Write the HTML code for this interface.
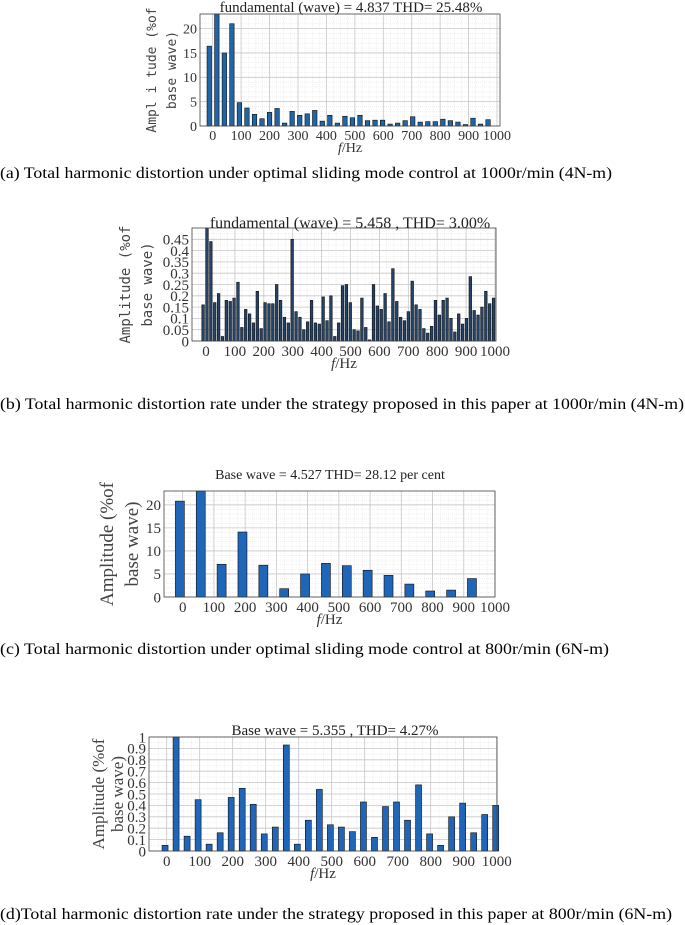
<!DOCTYPE html>
<html><head><meta charset="utf-8">
<style>
html,body{margin:0;padding:0;background:#fff;}
svg{display:block;font-family:"Liberation Serif",serif;}
</style></head>
<body>
<svg id="page" width="685" height="925" viewBox="0 0 685 925" xmlns="http://www.w3.org/2000/svg">
<text x="0" y="178" font-size="16" textLength="612" lengthAdjust="spacingAndGlyphs">(a) Total harmonic distortion under optimal sliding mode control at 1000r/min (4N-m)</text>
<text x="0" y="409" font-size="16" textLength="684" lengthAdjust="spacingAndGlyphs">(b) Total harmonic distortion rate under the strategy proposed in this paper at 1000r/min (4N-m)</text>
<text x="0" y="654" font-size="16" textLength="609" lengthAdjust="spacingAndGlyphs">(c) Total harmonic distortion under optimal sliding mode control at 800r/min (6N-m)</text>
<text x="0" y="919" font-size="16" textLength="672" lengthAdjust="spacingAndGlyphs">(d)Total harmonic distortion rate under the strategy proposed in this paper at 800r/min (6N-m)</text>
</svg>
<script>
// ---- data ----
const xTicks = [0,100,200,300,400,500,600,700,800,900,1000];
const xTickLabels = ["0","100","200","300","400","500","600","700","800","900","1000"];

const valuesA = [16.4,23,15,21,4.8,3.7,2.4,1.5,2.8,3.6,0.6,3.0,2.2,2.5,3.2,1.0,2.2,0.6,2.0,1.7,2.2,1.1,1.2,1.2,0.4,0.6,1.1,1.9,0.8,0.9,0.9,1.4,1.1,0.8,0.3,1.6,0.4,1.3];
const yTicksA = [0,5,10,15,20];
const yTickLabelsA = ["0","5","10","15","20"];

const valuesB = [0.16,0.5,0.44,0.17,0.21,0.02,0.18,0.175,0.19,0.26,0.06,0.14,0.12,0.08,0.22,0.055,0.17,0.165,0.165,0.25,0.18,0.105,0.08,0.45,0.13,0.105,0.05,0.085,0.18,0.08,0.075,0.195,0.09,0.2,0.02,0.08,0.245,0.25,0.17,0.05,0.045,0.19,0.06,0.005,0.25,0.155,0.14,0.21,0.085,0.32,0.175,0.105,0.09,0.13,0.265,0.16,0.14,0.055,0.035,0.065,0.18,0.115,0.18,0.19,0.1,0.04,0.12,0.075,0.1,0.285,0.135,0.115,0.15,0.22,0.165,0.19];
const yTicksB = [0,0.05,0.1,0.15,0.2,0.25,0.3,0.35,0.4,0.45];
const yTickLabelsB = ["0","0.05","0.1","0.15","0.2","0.25","0.3","0.35","0.4","0.45"];

const valuesC = [20.8,23,7.1,14.1,6.9,1.8,5.0,7.3,6.8,5.8,4.7,2.8,1.3,1.5,4.0];
const yTicksC = [0,5,10,15,20];
const yTickLabelsC = ["0","5","10","15","20"];

const valuesD = [0.05,1.0,0.13,0.45,0.06,0.16,0.47,0.55,0.41,0.15,0.21,0.93,0.06,0.27,0.54,0.23,0.21,0.17,0.43,0.12,0.39,0.43,0.27,0.58,0.15,0.05,0.3,0.42,0.16,0.32,0.4];
const yTicksD = [0,0.1,0.2,0.3,0.4,0.5,0.6,0.7,0.8,0.9,1];
const yTickLabelsD = ["0","0.1","0.2","0.3","0.4","0.5","0.6","0.7","0.8","0.9","1"];

const NS = "http://www.w3.org/2000/svg";
const svg = document.getElementById('page');
function mk(tag, attrs, parent){
  const e = document.createElementNS(NS, tag);
  for (const k in attrs) e.setAttribute(k, attrs[k]);
  (parent||svg).appendChild(e); return e;
}

function drawChart(c){
  const g = mk('g', {});
  
  
  const xs = v => c.x0 + v * (c.x1000 - c.x0) / 1000;
  const ys = v => c.bottom - v * (c.bottom - c.top) / c.ymax;
  for (let f = -25; f <= 1025; f += 25) {
    const x = xs(f); if (x < c.left || x > c.right) continue;
    const l = mk('line', {x1:x, x2:x, y1:c.top, y2:c.bottom, stroke:'#e6e6e6', 'stroke-width':0.6, 'stroke-dasharray':'1,1'}, g);
    
    
  }
  for (let i = 0; i <= c.minorY; i++) {
    const y = c.top + i * (c.bottom - c.top) / c.minorY;
    const l = mk('line', {x1:c.left, x2:c.right, y1:y, y2:y, stroke:'#e6e6e6', 'stroke-width':0.6, 'stroke-dasharray':'1,1'}, g);
    
    
  }
  xTicks.forEach((t, i) => {
    const x = xs(t);
    if (x >= c.left && x <= c.right) {
      const l = mk('line', {x1:x, x2:x, y1:c.top, y2:c.bottom, stroke:'#c8c8c8', 'stroke-width':0.8}, g);
      
      
    }
    const tx = mk('text', {x:x, y:c.bottom + c.tickFs, 'font-size':c.tickFs, 'text-anchor':'middle', fill:'#333'}, g);
    
    
    tx.textContent = xTickLabels[i];
  });
  c.yTicks.forEach((t, i) => {
    const y = ys(t);
    const l = mk('line', {x1:c.left, x2:c.right, y1:y, y2:y, stroke:'#c8c8c8', 'stroke-width':0.8}, g);
    
    
    const tx = mk('text', {x:c.left - 3, y:y + c.tickFs*0.35, 'font-size':c.tickFs, 'text-anchor':'end', fill:'#333'}, g);
    
    
    tx.textContent = c.yTickLabels[i];
  });
  c.values.forEach((v, i) => {
    const f = c.f0 + i * c.df;
    const x = xs(f);
    const y = ys(Math.min(v, c.ymax));
    const r = mk('rect', {x:x - c.bw/2, y:y, width:c.bw, height:c.bottom - y, fill:c.color, stroke:'#111', 'stroke-width':0.6}, g);
    
    
  });
  const fr = mk('rect', {x:c.left, y:c.top, width:c.right - c.left, height:c.bottom - c.top, fill:'none', stroke:'#444', 'stroke-width':0.8}, g);
  
  
  const tt = mk('text', {x:c.titleX, y:c.titleY, 'font-size':c.titleFs, 'text-anchor':'middle', fill:'#222'}, g);
  
  
  tt.textContent = c.title;
  const xl = mk('text', {x:(c.left + c.right)/2, y:c.bottom + c.tickFs + 12, 'font-size':c.tickFs, 'text-anchor':'middle', fill:'#333'}, g);
  
  
  xl.innerHTML = '<tspan font-style="italic">f</tspan>/Hz';
  const midY = (c.top + c.bottom)/2;
  c.ylab.forEach((s, i) => {
    const lx = c.ylabX[i];
    const yl = mk('text', {x:lx, y:midY, 'font-size':c.ylabFs, 'text-anchor':'middle', fill:'#444', 'font-family':c.ylabFont, transform:`rotate(-90 ${lx} ${midY})`}, g);
    
    
    yl.textContent = s;
  });
}

drawChart({name:'chart-a', left:200, right:500, top:14, bottom:126, x0:212.7, x1000:497, ymax:23, minorY:23,
  values:valuesA, f0:-12, df:26.5, bw:4.5, color:'#1f65a8', yTicks:yTicksA, yTickLabels:yTickLabelsA, tickFs:14,
  title:'fundamental (wave) = 4.837 THD= 25.48%', titleX:351, titleY:12, titleFs:15,
  ylab:['Ampl i tude (%of','base wave)'], ylabX:[156,176], ylabFs:13, ylabFont:'"DejaVu Sans Mono",monospace'});
drawChart({name:'chart-b', left:192, right:496, top:228, bottom:341, x0:206, x1000:495, ymax:0.5, minorY:20,
  values:valuesB, f0:-10, df:13.4, bw:2.6, color:'#24446a', yTicks:yTicksB, yTickLabels:yTickLabelsB, tickFs:15,
  title:'fundamental (wave)  = 5.458 , THD= 3.00%', titleX:350, titleY:228, titleFs:16,
  ylab:['Amplitude  (%of','base wave)'], ylabX:[130,152], ylabFs:14, ylabFont:'"DejaVu Sans Mono",monospace'});
drawChart({name:'chart-c', left:164, right:495, top:491, bottom:597, x0:182.7, x1000:495, ymax:23, minorY:23,
  values:valuesC, f0:-9, df:66.8, bw:9, color:'#1f65b8', yTicks:yTicksC, yTickLabels:yTickLabelsC, tickFs:15,
  title:'Base wave = 4.527 THD= 28.12 per cent', titleX:330, titleY:479, titleFs:14,
  ylab:['Amplitude (%of','base wave)'], ylabX:[113,138], ylabFs:19, ylabFont:'"Liberation Serif",serif'});
drawChart({name:'chart-d', left:149, right:497, top:737, bottom:851, x0:166.7, x1000:496.7, ymax:1.0, minorY:20,
  values:valuesD, f0:-5, df:33.4, bw:6, color:'#1f65b8', yTicks:yTicksD, yTickLabels:yTickLabelsD, tickFs:15,
  title:'Base wave = 5.355 , THD= 4.27%', titleX:335, titleY:735, titleFs:15,
  ylab:['Amplitude (%of','base wave)'], ylabX:[104,123], ylabFs:17, ylabFont:'"Liberation Serif",serif'});
</script>
</body></html>
